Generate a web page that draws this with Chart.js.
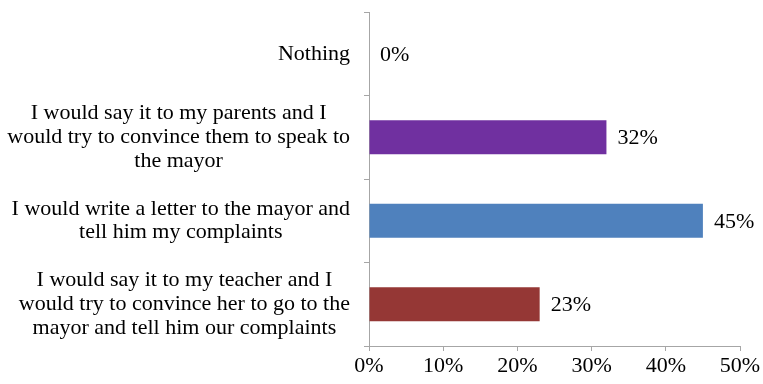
<!DOCTYPE html>
<html>
<head>
<meta charset="utf-8">
<script src="https://cdn.jsdelivr.net/npm/chart.js@4"></script>
<style>
  html, body { margin: 0; padding: 0; background: #ffffff; }
  #wrap { width: 763px; height: 384px; position: relative; }
</style>
</head>
<body>
<div id="wrap"><canvas id="answerChart"></canvas></div>
<script>
// 回答の選択肢（上から順）
const answers = [
    ['Nothing'],
    ['I would say it to my parents and I', 'would try to convince them to speak to', 'the mayor'],
    ['I would write a letter to the mayor and', 'tell him my complaints'],
    ['I would say it to my teacher and I', 'would try to convince her to go to the', 'mayor and tell him our complaints']
];
// 割合 (%)
const shares = [0, 32, 45, 23];
const barColors = ['#7030A0', '#7030A0', '#4F81BD', '#953735'];
const axisTicks = [0, 10, 20, 30, 40, 50];

const serif = '"Liberation Serif", "Times New Roman", serif';
const axisGray = '#A6A6A6';
const labelFont = '22px ' + serif;

// バーの右側に値ラベルを描くプラグイン
const valueLabelPlugin = {
    id: 'valueLabel',
    afterDatasetsDraw: (chart) => {
        const { ctx } = chart;
        const meta = chart.getDatasetMeta(0);
        ctx.save();
        ctx.font = labelFont;
        ctx.fillStyle = '#000000';
        ctx.textAlign = 'left';
        ctx.textBaseline = 'middle';
        meta.data.forEach((bar, i) => {
            ctx.fillText(shares[i] + '%', bar.x + 11, bar.y + 1);
        });
        ctx.restore();
    }
};

// 項目ラベルはブロックごとに右寄せ、行は中央揃え（Excel風）
const rightBlockLabelPlugin = {
    id: 'rightBlockLabel',
    beforeDraw: (chart) => {
        const scale = chart.scales.y;
        const { ctx } = chart;
        const opts = scale.options;
        const rightEdge = scale.right - opts.grid.tickLength - opts.ticks.padding;
        const items = scale.getLabelItems(chart.chartArea);
        ctx.save();
        ctx.font = labelFont;
        items.forEach((item) => {
            const lines = Array.isArray(item.label) ? item.label : [item.label];
            const w = Math.max(...lines.map(l => ctx.measureText(l).width));
            item.options.textAlign = 'center';
            item.options.translation[0] = rightEdge - w / 2;
        });
        ctx.restore();
    }
};

const ctx = document.getElementById('answerChart').getContext('2d');

new Chart(ctx, {
    type: 'bar',
    data: {
        labels: answers,
        datasets: [{
            data: shares,
            backgroundColor: barColors,
            borderWidth: 0,
            categoryPercentage: 1.0,
            barPercentage: 0.41
        }]
    },
    plugins: [valueLabelPlugin, rightBlockLabelPlugin],
    options: {
        indexAxis: 'y',
        responsive: true,
        maintainAspectRatio: false,
        animation: false,
        layout: {
            padding: { top: 12, right: 23, left: 0, bottom: 0 }
        },
        plugins: {
            legend: { display: false },
            tooltip: { enabled: false }
        },
        scales: {
            x: {
                min: 0,
                max: 50,
                afterBuildTicks: (scale) => {
                    scale.ticks = axisTicks.map(v => ({ value: v }));
                },
                afterFit: (scale) => {
                    scale.height = 384 - 346;
                },
                grid: {
                    drawOnChartArea: false,
                    tickLength: 5,
                    color: axisGray
                },
                border: { color: axisGray, width: 1 },
                ticks: {
                    padding: 2,
                    color: '#000000',
                    font: { family: serif, size: 22 },
                    callback: (v) => v + '%'
                }
            },
            y: {
                afterFit: (scale) => {
                    // 複数行ラベルの上下はみ出し分を無視して描画領域を固定
                    scale.width = 369;
                    scale.paddingTop = 0;
                    scale.paddingBottom = 0;
                },
                grid: {
                    offset: true,
                    drawOnChartArea: false,
                    tickLength: 5,
                    color: axisGray
                },
                border: { color: axisGray, width: 1 },
                ticks: {
                    autoSkip: false,
                    padding: 14,
                    crossAlign: 'center',
                    color: '#000000',
                    font: { family: serif, size: 22, lineHeight: 1.07 }
                }
            }
        }
    }
});
</script>
</body>
</html>
